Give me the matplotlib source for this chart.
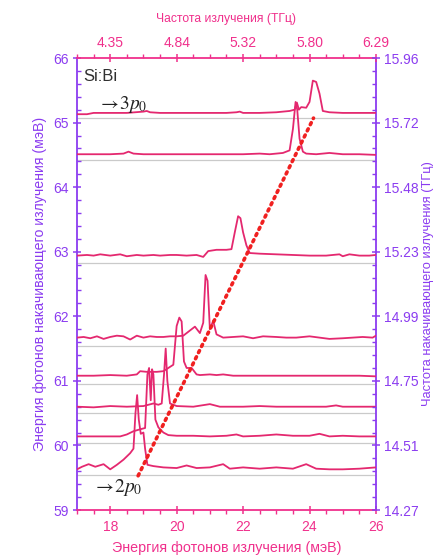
import matplotlib
matplotlib.use("Agg")
import matplotlib.pyplot as plt
from matplotlib.ticker import MultipleLocator, FixedLocator

# ---------------- data ----------------
t1_x = [17.0, 17.3, 17.5, 18.0, 18.5, 19.0, 19.1, 19.2, 19.5, 20.0, 20.5, 21.0, 21.5, 21.8, 21.9, 22.0, 22.5, 23.0,
        23.2, 23.4, 23.55, 23.62, 23.68, 23.75, 23.9, 24.0, 24.1, 24.2, 24.3, 24.4, 24.6, 25.0, 25.5, 26.0]
t1_y = [65.13, 65.13, 65.15, 65.15, 65.15, 65.17, 65.18, 65.16, 65.15, 65.15, 65.15, 65.15, 65.15, 65.16, 65.17,
        65.15, 65.15, 65.16, 65.17, 65.18, 65.20, 65.31, 65.20, 65.24, 65.23, 65.32, 65.65, 65.63, 65.45, 65.18,
        65.16, 65.15, 65.15, 65.15]

t2_x = [17.0, 17.5, 18.0, 18.4, 18.55, 18.7, 19.0, 19.5, 20.0, 20.5, 21.0, 21.5, 22.0, 22.5, 22.8, 23.0, 23.2, 23.4,
        23.5, 23.58, 23.63, 23.7, 23.8, 23.9, 24.2, 24.6, 25.0, 25.5, 26.0]
t2_y = [64.51, 64.51, 64.51, 64.52, 64.55, 64.52, 64.51, 64.51, 64.51, 64.51, 64.51, 64.51, 64.51, 64.52, 64.51,
        64.52, 64.53, 64.57, 64.90, 65.32, 65.20, 64.75, 64.55, 64.52, 64.51, 64.53, 64.51, 64.51, 64.50]

t3_x = [17.0, 17.3, 17.5, 17.7, 18.0, 18.3, 18.5, 18.8, 19.0, 19.3, 19.5, 19.8, 20.0, 20.3, 20.6, 20.8, 20.95, 21.2,
        21.5, 21.65, 21.75, 21.85, 21.92, 22.0, 22.1, 22.2, 22.5, 23.0, 23.5, 24.0, 24.5, 24.9, 25.0, 25.2, 25.5,
        25.8, 26.0]
t3_y = [62.94, 62.95, 62.94, 62.96, 62.94, 62.96, 62.93, 62.95, 62.94, 62.95, 62.94, 62.95, 62.95, 62.94, 62.95,
        62.92, 63.01, 63.03, 63.03, 63.04, 63.30, 63.55, 63.52, 63.30, 63.10, 62.98, 62.97, 62.96, 62.95, 62.94,
        62.94, 62.96, 62.93, 62.96, 62.94, 62.94, 62.95]

t4_x = [17.0, 17.2, 17.4, 17.6, 17.8, 18.0, 18.2, 18.4, 18.6, 18.8, 19.0, 19.2, 19.4, 19.6, 19.8, 20.0, 20.2, 20.4,
        20.55, 20.7, 20.8, 20.87, 20.93, 21.0, 21.1, 21.2, 21.4, 21.7, 22.0, 22.3, 22.6, 23.0, 23.3, 23.6, 24.0,
        24.3, 24.6, 25.0, 25.3, 25.6, 25.9, 26.0]
t4_y = [61.67, 61.68, 61.66, 61.69, 61.65, 61.68, 61.70, 61.69, 61.64, 61.70, 61.67, 61.69, 61.68, 61.68, 61.69,
        61.69, 61.70, 61.78, 61.84, 61.74, 61.90, 62.64, 62.55, 61.80, 61.93, 61.72, 61.67, 61.68, 61.69, 61.66,
        61.69, 61.68, 61.67, 61.67, 61.69, 61.67, 61.65, 61.66, 61.67, 61.68, 61.67, 61.70]

t5_x = [17.0, 17.5, 18.0, 18.5, 18.8, 18.9, 19.1, 19.4, 19.6, 19.75, 19.9, 20.0, 20.08, 20.15, 20.22, 20.3, 20.45,
        20.6, 20.7, 21.0, 21.2, 21.4, 21.7, 22.0, 22.5, 23.0, 23.5, 24.0, 24.5, 25.0, 25.5, 26.0]
t5_y = [61.08, 61.08, 61.09, 61.08, 61.10, 61.15, 61.14, 61.14, 61.15, 61.20, 61.25, 61.85, 61.98, 61.92, 61.30,
        61.20, 61.20, 61.10, 61.09, 61.10, 61.09, 61.10, 61.08, 61.08, 61.08, 61.08, 61.08, 61.08, 61.08, 61.08,
        61.08, 61.07]

t6_x = [17.0, 17.5, 18.0, 18.5, 19.0, 19.3, 19.45, 19.55, 19.62, 19.67, 19.72, 19.8, 20.0, 20.5, 21.0, 21.3, 22.0,
        22.5, 23.0, 23.5, 24.0, 24.5, 24.8, 25.0, 25.5, 26.0]
t6_y = [60.60, 60.59, 60.61, 60.60, 60.61, 60.65, 60.63, 60.65, 61.10, 61.50, 61.00, 60.65, 60.61, 60.60, 60.64,
        60.60, 60.60, 60.61, 60.60, 60.60, 60.60, 60.60, 60.62, 60.60, 60.60, 60.60]

t7_x = [17.0, 17.5, 18.0, 18.3, 18.5, 18.7, 18.9, 19.05, 19.12, 19.17, 19.22, 19.26, 19.3, 19.36, 19.45, 19.6,
        19.75, 20.0, 20.5, 21.0, 21.5, 21.8, 22.0, 22.5, 23.0, 23.5, 24.0, 24.3, 24.6, 25.0, 25.5, 26.0]
t7_y = [60.14, 60.14, 60.14, 60.14, 60.17, 60.22, 60.25, 60.27, 61.10, 61.20, 60.70, 61.18, 61.10, 60.40, 60.28,
        60.20, 60.16, 60.15, 60.15, 60.14, 60.15, 60.17, 60.14, 60.15, 60.17, 60.15, 60.15, 60.18, 60.14, 60.15,
        60.14, 60.14]

t8_x = [17.0, 17.15, 17.35, 17.55, 17.8, 18.0, 18.2, 18.4, 18.6, 18.7, 18.76, 18.81, 18.86, 18.92, 19.0, 19.05,
        19.12, 19.3, 19.6, 20.0, 20.3, 20.6, 21.0, 21.4, 21.6, 22.0, 22.5, 23.0, 23.5, 23.9, 24.2, 24.6, 25.0,
        25.5, 26.0]
t8_y = [59.63, 59.67, 59.71, 59.67, 59.71, 59.63, 59.70, 59.78, 59.88, 59.95, 60.50, 60.78, 60.40, 60.18, 60.20,
        59.95, 59.70, 59.68, 59.66, 59.65, 59.69, 59.65, 59.66, 59.71, 59.64, 59.66, 59.64, 59.66, 59.64, 59.71,
        59.64, 59.63, 59.63, 59.64, 59.66]

gray_levels = [65.07, 64.42, 62.82, 61.54, 60.95, 60.51, 60.04, 59.54]

diag_x = [18.84, 24.12]
diag_y = [59.53, 65.07]

bottom_ticks = [18, 20, 22, 24, 26]
top_tick_labels = ["4.35", "4.84", "5.32", "5.80", "6.29"]
left_ticks = [59, 60, 61, 62, 63, 64, 65, 66]
right_tick_labels = ["14.27", "14.51", "14.75", "14.99", "15.23", "15.48", "15.72", "15.96"]

# ---------------- style ----------------
plt.rcParams['font.family'] = ['Liberation Sans', 'DejaVu Sans']
plt.rcParams['mathtext.fontset'] = 'stix'

PURPLE = "#8b3cf0"
PINK = "#f0308c"
TRACE = "#e4286f"
DOT = "#f02020"

fig = plt.figure(figsize=(4.39, 5.58), dpi=100)
ax = fig.add_axes([0.1754, 0.086, 0.681, 0.810])

for lv in gray_levels:
    ax.axhline(lv, color="#cacaca", lw=0.9, zorder=1)

traces = [(t1_x, t1_y), (t2_x, t2_y), (t3_x, t3_y), (t4_x, t4_y),
          (t5_x, t5_y), (t6_x, t6_y), (t7_x, t7_y), (t8_x, t8_y)]
for xs, ys in traces:
    ax.plot(xs, ys, color=TRACE, lw=1.3, zorder=3, solid_joinstyle='round')

ax.plot(diag_x, diag_y, color=DOT, lw=2.6, linestyle=(0, (0.6, 1.3)),
        dash_capstyle='round', zorder=4)

ax.set_xlim(17, 26)
ax.set_ylim(59, 66)

ax.xaxis.set_major_locator(FixedLocator(bottom_ticks))
ax.xaxis.set_minor_locator(MultipleLocator(0.5))
ax.yaxis.set_major_locator(FixedLocator(left_ticks))
ax.yaxis.set_minor_locator(MultipleLocator(0.2))

for side in ("left", "right"):
    ax.spines[side].set_color(PURPLE)
    ax.spines[side].set_linewidth(1.3)
for side in ("top", "bottom"):
    ax.spines[side].set_color(PINK)
    ax.spines[side].set_linewidth(1.3)

ax.tick_params(axis='x', which='major', direction='inout', length=6, width=1.1,
               colors=PINK, labelsize=10, pad=4)
ax.tick_params(axis='x', which='minor', direction='out', length=3, width=1.0, color=PINK)
ax.tick_params(axis='y', which='major', direction='inout', length=6, width=1.1,
               colors=PURPLE, labelsize=10, pad=3)
ax.tick_params(axis='y', which='minor', direction='in', length=3, width=1.0, color=PURPLE)

ax.set_xlabel("Энергия фотонов излучения (мэВ)", color=PINK, fontsize=10.3, labelpad=5)
ax.set_ylabel("Энергия фотонов накачивающего излучения (мэВ)", color=PURPLE, fontsize=10.2, labelpad=4)

# top axis
axt = ax.twiny()
axt.set_xlim(ax.get_xlim())
axt.xaxis.set_major_locator(FixedLocator(bottom_ticks))
axt.set_xticklabels(top_tick_labels)
axt.xaxis.set_minor_locator(MultipleLocator(0.5))
axt.tick_params(axis='x', which='major', direction='inout', length=6, width=1.1,
                colors=PINK, labelsize=10, pad=3)
axt.tick_params(axis='x', which='minor', direction='out', length=3, width=1.0, color=PINK)
axt.set_xlabel("Частота излучения (ТГц)", color=PINK, fontsize=8.7, labelpad=10)
for s in axt.spines.values():
    s.set_visible(False)

# right axis
axr = ax.twinx()
axr.set_ylim(ax.get_ylim())
axr.yaxis.set_major_locator(FixedLocator(left_ticks))
axr.set_yticklabels(right_tick_labels)
axr.yaxis.set_minor_locator(MultipleLocator(0.2))
axr.tick_params(axis='y', which='major', direction='inout', length=6, width=1.1,
                colors=PURPLE, labelsize=10, pad=3)
axr.tick_params(axis='y', which='minor', direction='in', length=3, width=1.0, color=PURPLE)
axr.set_ylabel("Частота накачивающего излучения (ТГц)", color=PURPLE, fontsize=9.3, labelpad=2)
for s in axr.spines.values():
    s.set_visible(False)

ax.text(0.02, 0.975, "Si:Bi", transform=ax.transAxes, fontsize=12, color="#303030",
        ha='left', va='top')
ax.text(0.07, 0.898, r"$\rightarrow\!\mathit{3p}_0$", transform=ax.transAxes, fontsize=14,
        color="#202020", ha='left', va='center')
ax.text(0.054, 0.049, r"$\rightarrow\!\mathit{2p}_0$", transform=ax.transAxes, fontsize=14,
        color="#202020", ha='left', va='center')

fig.savefig("out.png", dpi=100)
